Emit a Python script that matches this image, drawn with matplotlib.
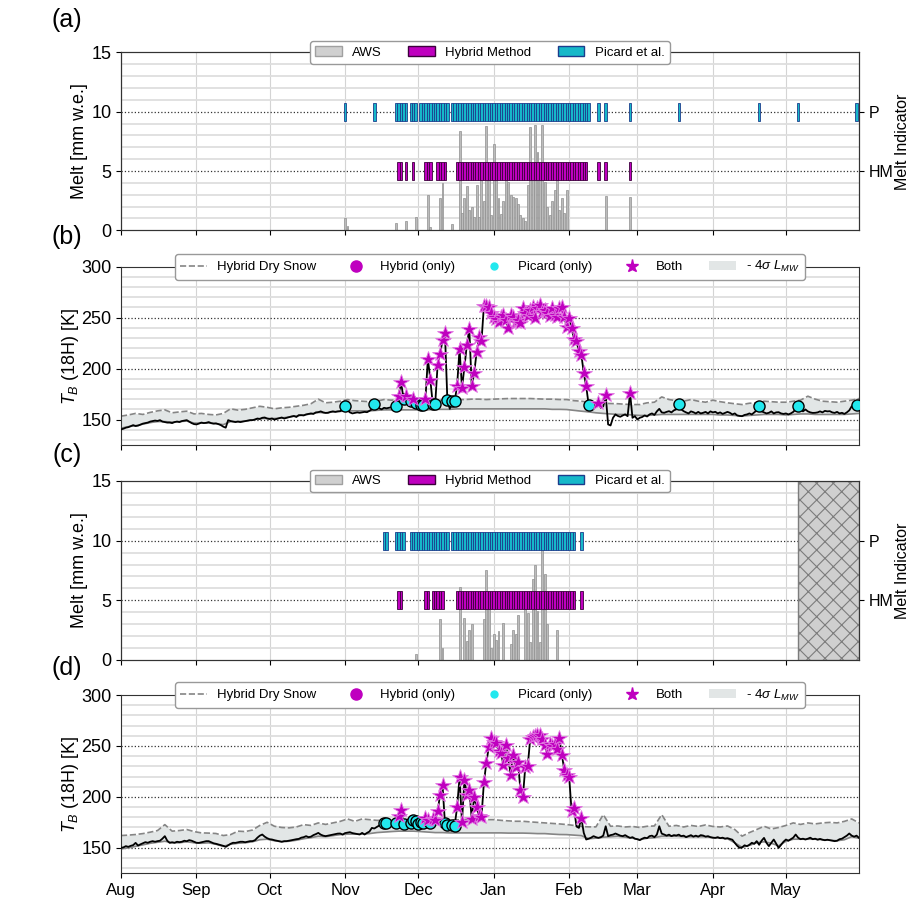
import numpy as np
import matplotlib
matplotlib.use('Agg')
import matplotlib.pyplot as plt
from matplotlib.patches import Patch
from matplotlib.lines import Line2D
from matplotlib.ticker import MultipleLocator

plt.rcParams['font.family'] = ['Liberation Sans', 'DejaVu Sans']
plt.rcParams['mathtext.fontset'] = 'custom'
plt.rcParams['mathtext.rm'] = 'Liberation Sans'
plt.rcParams['mathtext.it'] = 'Liberation Sans:italic'
plt.rcParams['mathtext.bf'] = 'Liberation Sans:bold'
plt.rcParams['hatch.linewidth'] = 0.8

# ---------------- axis / categories ----------------
month_days = [0, 31, 61, 92, 122, 153, 184, 212, 243, 273]   # days since Aug 1
month_labels = ['Aug', 'Sep', 'Oct', 'Nov', 'Dec', 'Jan', 'Feb', 'Mar', 'Apr', 'May']

# ---------------- melt detection days (runs of consecutive days since Aug 1) ----------------
picard_a_runs = [(92, 92), (104, 104), (113, 117), (119, 121), (123, 134), (136, 192),
                 (196, 196), (199, 199), (209, 209), (229, 229), (262, 262), (278, 278), (302, 302)]
hybrid_a_runs = [(114, 115), (117, 117), (120, 120), (125, 127), (130, 133), (138, 191),
                 (196, 196), (199, 199), (209, 209)]
picard_c_runs = [(108, 109), (113, 116), (119, 134), (136, 186), (189, 189)]
hybrid_c_runs = [(114, 115), (125, 126), (128, 132), (138, 186), (189, 189)]

# ---------------- AWS melt (mm w.e.) ----------------
aws_a_days = [92, 93, 113, 117, 121, 126, 127, 131, 132, 136, 139, 140, 141, 142, 143, 144, 145, 146,
              147, 148, 149, 150, 151, 152, 153, 154, 155, 156, 157, 158, 159, 160, 161, 162, 163,
              164, 165, 166, 167, 168, 169, 170, 171, 172, 173, 174, 175, 176, 177, 178, 179, 180,
              181, 182, 183, 199, 209]
aws_a_vals = [1.0, 0.4, 0.6, 0.8, 1.1, 3.0, 0.3, 2.75, 4.0, 0.5, 8.4, 1.5, 2.7, 3.7, 1.7, 2.0, 1.1, 3.8,
              1.1, 4.2, 2.5, 8.8, 4.2, 1.3, 7.3, 4.8, 2.7, 1.4, 2.5, 5.1, 4.1, 3.0, 2.8, 2.7, 2.2,
              1.3, 1.0, 0.8, 3.8, 8.7, 4.6, 8.9, 6.6, 5.5, 8.9, 4.1, 2.0, 1.3, 2.5, 3.4, 4.2, 1.7,
              2.7, 1.5, 3.4, 2.9, 2.8]
aws_c_days = [121, 131, 132, 139, 141, 142, 143, 144, 149, 150, 151, 152, 153, 154, 155, 157, 160,
              161, 162, 163, 166, 167, 168, 169, 170, 171, 172, 173, 174, 175, 179]
aws_c_vals = [0.5, 3.4, 1.0, 6.1, 3.5, 1.6, 2.5, 3.0, 3.4, 7.5, 4.9, 1.0, 2.2, 1.7, 2.4, 3.1, 1.3,
              2.5, 2.2, 3.8, 4.3, 3.9, 1.5, 6.8, 8.0, 4.1, 1.5, 9.4, 7.2, 3.0, 2.5]

# ---------------- T_B (18H) daily, Aug 1 .. May 31 ----------------
tb_b = [
    140.3, 141.0, 142.0, 142.5, 143.5, 144.5, 143.6, 144.0, 145.0, 146.0,
    146.5, 147.0, 148.0, 148.5, 149.0, 148.6, 149.4, 148.0, 147.5, 147.0,
    147.0, 146.5, 147.5, 148.0, 147.5, 148.5, 149.0, 149.4, 148.0, 146.5,
    145.5, 145.2, 146.0, 147.0, 146.5, 146.8, 147.5, 146.5, 146.0, 146.2,
    145.5, 144.5, 143.0, 142.0, 149.4, 148.5, 148.0, 147.5, 148.0, 147.5,
    148.0, 148.5, 149.0, 149.4, 149.4, 150.0, 151.0, 150.5, 151.7, 152.0,
    151.0, 150.5, 151.0, 150.0, 150.7, 151.5, 152.0, 151.0, 151.7, 152.5,
    153.0, 153.5, 152.5, 154.3, 154.3, 154.0, 155.0, 155.5, 156.0, 155.5,
    157.0, 157.2, 158.0, 157.0, 156.5, 156.6, 157.5, 158.0, 157.5, 158.0,
    158.2, 160.0, 163.0, 159.0, 157.0, 156.0, 156.5, 157.0, 156.6, 157.0,
    157.5, 157.2, 158.5, 160.0, 165.0, 162.0, 161.0, 160.0, 161.5, 161.0,
    161.5, 162.0, 162.5, 163.1, 173.5, 186.5, 170.3, 173.5, 166.0, 168.0,
    170.3, 166.4, 165.0, 164.7, 164.7, 170.6, 209.7, 189.0, 165.4, 165.4,
    203.8, 214.5, 227.6, 235.4, 169.0, 160.5, 168.0, 168.0, 183.3, 219.4,
    181.0, 201.5, 223.3, 239.0, 182.6, 195.7, 215.8, 230.8, 226.6, 261.4,
    261.7, 260.0, 254.2, 251.0, 248.4, 246.1, 251.0, 252.6, 247.7, 239.6,
    252.6, 250.3, 246.1, 248.0, 244.5, 259.1, 254.2, 251.6, 257.5, 260.8,
    249.4, 259.1, 262.4, 255.9, 257.5, 254.2, 251.6, 259.1, 252.6, 250.3,
    259.1, 260.1, 251.0, 241.2, 250.0, 240.0, 229.0, 227.2, 216.8, 213.6,
    195.7, 182.6, 164.7, 163.5, 163.0, 164.0, 166.4, 161.5, 163.0, 173.8,
    145.2, 144.2, 151.7, 155.0, 153.5, 152.7, 154.0, 155.0, 153.3, 176.1,
    151.7, 153.3, 150.1, 151.7, 152.5, 154.0, 153.0, 155.0, 156.0, 154.5,
    158.0, 160.5, 157.0, 156.6, 157.5, 158.2, 157.0, 159.0, 160.0, 165.4,
    160.0, 158.2, 157.0, 156.0, 158.0, 157.2, 156.0, 157.5, 156.0, 156.6,
    157.5, 156.0, 158.0, 157.0, 157.6, 156.0, 157.0, 155.5, 156.5, 157.5,
    156.6, 155.0, 156.0, 154.0, 153.5, 153.3, 154.5, 155.0, 156.0, 155.0,
    157.0, 159.0, 163.0, 158.0, 157.0, 156.0, 156.6, 158.0, 156.0, 157.0,
    157.2, 156.0, 155.5, 156.0, 155.0, 156.0, 157.5, 160.0, 163.0, 160.0,
    158.0, 159.9, 158.0, 157.0, 156.5, 156.6, 157.0, 158.0, 157.0, 158.5,
    158.0, 158.2, 157.0, 156.5, 157.5, 156.0, 156.6, 155.5, 157.0, 159.0,
    163.0, 162.0, 164.7, 160.5]

tb_d = [
    150.0, 150.5, 151.7, 151.0, 152.0, 152.7, 154.9, 152.3, 153.5, 154.5,
    155.6, 155.0, 156.0, 156.6, 156.0, 156.6, 157.0, 159.0, 161.5, 157.0,
    154.9, 155.5, 155.0, 156.0, 155.6, 156.0, 157.0, 156.5, 157.6, 157.0,
    156.0, 155.0, 154.9, 155.5, 156.0, 156.6, 156.6, 155.5, 154.5, 154.0,
    153.3, 152.5, 152.0, 151.0, 152.5, 154.0, 155.0, 154.9, 155.5, 156.0,
    156.0, 155.5, 156.0, 156.6, 156.6, 157.5, 160.0, 162.0, 163.1, 161.0,
    159.5, 158.5, 158.2, 157.5, 157.0, 156.6, 156.0, 156.6, 156.6, 157.0,
    157.5, 158.0, 158.5, 158.8, 160.0, 160.5, 161.5, 160.5, 161.0, 162.5,
    163.5, 164.7, 163.0, 162.0, 161.5, 162.0, 162.5, 163.0, 163.5, 164.0,
    164.1, 163.0, 164.5, 165.0, 165.4, 164.5, 164.0, 163.5, 163.1, 164.7,
    163.1, 164.7, 166.0, 169.6, 169.0, 170.5, 171.9, 173.0, 174.5, 174.5,
    172.0, 171.9, 172.5, 174.5, 181.0, 187.5, 173.5, 172.0, 171.5, 174.5,
    177.7, 176.1, 173.8, 175.0, 174.0, 179.4, 177.7, 174.5, 178.4, 177.7,
    185.9, 202.2, 211.9, 174.5, 172.9, 171.9, 172.9, 171.9, 190.1, 219.4,
    175.1, 216.8, 202.2, 207.0, 178.4, 199.9, 190.1, 181.0, 180.3, 214.2,
    233.7, 248.7, 257.5, 254.3, 252.6, 245.5, 243.5, 231.5, 251.0, 238.0,
    221.7, 241.2, 229.8, 234.7, 206.4, 199.9, 229.8, 230.5, 256.8, 258.5,
    259.8, 261.0, 260.8, 256.5, 251.0, 242.2, 252.0, 250.0, 252.0, 246.8,
    257.5, 241.2, 226.6, 222.0, 220.0, 186.0, 189.0, 171.0, 169.6, 179.4,
    164.7, 158.2, 159.0, 160.0, 161.5, 160.5, 159.8, 160.5, 162.0, 171.2,
    161.5, 162.5, 163.0, 164.1, 163.0, 162.0, 161.5, 162.5, 161.0, 159.8,
    160.5, 159.0, 158.5, 157.6, 159.0, 160.0, 159.5, 161.5, 162.0, 160.5,
    163.0, 171.2, 164.0, 163.1, 162.0, 163.0, 161.5, 162.5, 162.1, 163.0,
    161.5, 162.0, 160.5, 161.5, 162.5, 161.0, 162.0, 161.0, 162.5, 162.1,
    161.0, 161.5, 160.5, 160.0, 159.8, 160.5, 159.5, 160.0, 159.0, 159.5,
    158.8, 158.0, 154.9, 152.0, 150.0, 150.5, 152.5, 151.7, 153.0, 155.0,
    154.0, 156.6, 153.0, 157.0, 159.8, 155.0, 151.7, 155.0, 158.2, 154.0,
    150.0, 153.0, 156.0, 158.2, 157.0, 158.5, 160.0, 163.1, 160.0, 158.5,
    159.0, 158.2, 159.0, 160.0, 158.5, 159.0, 158.0, 158.8, 158.0, 157.5,
    158.0, 157.5, 157.0, 156.6, 157.0, 158.5, 159.0, 160.5, 162.0, 164.1,
    162.0, 161.0, 162.0, 159.8]

# ---------------- dry-snow reference and -4 sigma band (every 3rd day) ----------------
band_days = list(range(0, 304, 3))
dry_b = [
    153.3, 154.5, 156.0, 155.0, 157.0, 158.5, 159.5, 156.6, 157.5, 158.2,
    155.5, 156.0, 155.0, 154.5, 156.0, 160.5, 159.2, 160.0, 161.5, 163.0,
    162.0, 160.5, 161.5, 162.0, 163.0, 164.0, 165.5, 170.0, 166.4, 167.0,
    168.0, 169.6, 168.5, 168.0, 167.5, 168.0, 169.6, 169.0, 169.6, 169.6,
    168.5, 168.0, 168.5, 169.0, 169.0, 169.0, 169.6, 169.6, 170.0, 170.0,
    169.6, 170.0, 170.3, 170.6, 170.6, 170.6, 170.6, 170.3, 170.0, 170.0,
    169.6, 169.6, 168.5, 168.0, 167.0, 166.4, 166.0, 165.7, 165.5, 165.0,
    164.7, 164.7, 166.4, 167.0, 172.2, 169.6, 168.5, 168.0, 169.6, 168.0,
    167.0, 169.0, 167.5, 166.4, 165.5, 164.7, 166.0, 166.4, 168.0, 167.5,
    167.0, 167.0, 168.0, 169.0, 172.9, 170.0, 168.0, 167.5, 167.0, 168.0,
    169.0, 170.6]
low_b = [
    141.5, 143.0, 144.0, 145.5, 147.0, 148.0, 148.0, 147.5, 148.0, 148.5,
    146.5, 146.5, 146.5, 146.0, 145.0, 148.0, 148.0, 148.5, 149.5, 151.0,
    151.0, 151.0, 151.5, 152.5, 153.5, 154.5, 155.5, 157.0, 156.5, 157.5,
    158.0, 158.5, 158.5, 158.5, 158.5, 159.0, 159.5, 159.5, 159.5, 159.5,
    159.5, 159.5, 159.5, 160.0, 160.0, 160.0, 160.5, 160.5, 160.5, 160.5,
    160.5, 160.5, 160.5, 160.5, 160.5, 160.5, 160.5, 160.5, 160.5, 160.0,
    160.0, 159.8, 159.0, 158.2, 157.5, 156.6, 156.0, 155.5, 155.0, 155.0,
    154.5, 154.0, 154.0, 154.5, 155.0, 155.0, 155.0, 155.0, 155.0, 155.0,
    155.0, 155.0, 154.5, 154.5, 154.0, 153.5, 154.0, 154.5, 155.0, 155.0,
    155.0, 154.5, 155.0, 155.5, 155.5, 155.0, 155.0, 155.0, 155.0, 155.0,
    155.5, 156.0]
dry_d = [
    162.1, 162.5, 163.1, 164.0, 165.4, 167.0, 172.8, 166.4, 167.0, 168.0,
    166.0, 164.7, 164.5, 164.1, 162.1, 163.0, 166.4, 166.0, 167.5, 172.0,
    175.1, 171.2, 170.0, 169.6, 170.5, 172.8, 172.0, 174.5, 173.0, 174.5,
    176.0, 178.4, 176.0, 178.4, 177.7, 177.0, 177.0, 176.5, 176.0, 176.5,
    177.0, 177.0, 177.5, 177.0, 177.0, 177.5, 177.5, 177.7, 177.7, 177.7,
    177.7, 177.7, 177.0, 176.5, 176.1, 176.1, 175.5, 175.0, 174.5, 174.0,
    173.5, 172.9, 172.0, 171.0, 170.6, 170.6, 182.6, 171.2, 171.5, 170.5,
    171.0, 170.0, 171.2, 171.5, 182.6, 171.2, 172.0, 170.5, 172.0, 171.0,
    172.5, 171.0, 170.5, 171.5, 168.0, 161.5, 165.0, 168.0, 171.2, 168.5,
    170.0, 172.0, 174.5, 173.0, 174.5, 173.5, 174.5, 175.0, 174.5, 176.0,
    178.4, 174.5]
low_d = [
    149.0, 150.0, 151.5, 153.0, 154.5, 155.5, 156.5, 155.0, 155.0, 156.0,
    155.0, 154.5, 155.0, 153.5, 151.5, 153.5, 154.5, 155.0, 156.0, 158.0,
    158.5, 157.0, 156.0, 156.5, 157.5, 159.0, 160.0, 161.5, 161.0, 162.0,
    163.0, 163.5, 163.5, 163.5, 164.0, 165.0, 165.5, 166.0, 166.4, 166.4,
    166.4, 166.0, 165.5, 165.0, 165.0, 164.7, 164.7, 164.7, 164.7, 164.7,
    164.7, 164.7, 164.7, 164.5, 164.5, 164.5, 164.3, 164.0, 164.0, 163.5,
    163.1, 163.0, 162.5, 162.0, 159.0, 159.5, 160.5, 161.0, 161.5, 160.5,
    159.5, 158.0, 159.5, 160.0, 161.5, 161.5, 161.5, 161.0, 161.0, 161.0,
    161.0, 160.0, 159.5, 159.0, 155.0, 150.5, 152.5, 155.0, 156.0, 154.5,
    152.0, 156.5, 158.5, 158.5, 158.5, 158.5, 158.0, 157.5, 157.0, 158.0,
    161.0, 159.5]

no_data_start_c = 278   # hatched (no AWS data) region in panel (c)

# ---------------- styles ----------------
C_HYB = '#bf00bf'
C_HYB_EDGE = '#3c003c'
C_PIC = '#16b8c9'
C_PIC_EDGE = '#1c3c8c'
C_CYAN = '#22e8ee'
C_AWS = '#bcbcbc'
C_BAND = '#e2e6e6'
C_DRY = '#858585'
FS_YTICK = 13
FS_XTICK = 12
FS_LAB = 13
FS_RTICK = 11.5
FS_RLAB = 11.5
FS_LEG = 9.5

XMAX = 303


def expand(runs):
    out = []
    for a, b in runs:
        out.extend(range(a, b + 1))
    return out


def style_x(ax, labels):
    ax.set_xlim(0, XMAX)
    ax.set_xticks(month_days)
    if labels:
        ax.set_xticklabels(month_labels, fontsize=FS_XTICK)
    else:
        ax.set_xticklabels([])
    ax.grid(which='major', axis='x', color='#d4d4d4', lw=0.8, zorder=0)
    ax.set_axisbelow(True)


def melt_panel(ax, aws_days, aws_vals, hyb_days, pic_days):
    ax.set_ylim(0, 15)
    ax.yaxis.set_major_locator(MultipleLocator(5))
    ax.yaxis.set_minor_locator(MultipleLocator(1))
    ax.tick_params(axis='y', which='minor', length=0)
    ax.grid(which='minor', axis='y', color='#dedede', lw=1.3, zorder=0)
    for yv in (5, 10):
        ax.axhline(yv, color='#333333', ls=':', lw=0.9, zorder=1)
    ax.bar(aws_days, aws_vals, width=0.8, color=C_AWS, edgecolor='#8f8f8f', lw=0.5, zorder=2)
    ax.bar(hyb_days, 1.5, bottom=4.25, width=1.0, color=C_HYB, edgecolor=C_HYB_EDGE, lw=0.6, zorder=3)
    ax.bar(pic_days, 1.5, bottom=9.25, width=1.0, color=C_PIC, edgecolor=C_PIC_EDGE, lw=0.6, zorder=3)
    ax.set_ylabel('Melt [mm w.e.]', fontsize=FS_LAB)
    ax.yaxis.set_label_coords(-0.045, 0.5)
    ax.tick_params(axis='y', labelsize=FS_YTICK)
    ax2 = ax.twinx()
    ax2.set_ylim(0, 15)
    ax2.set_yticks([5, 10])
    ax2.set_yticklabels(['HM', 'P'], fontsize=FS_RTICK)
    ax2.set_ylabel('Melt Indicator', fontsize=FS_RLAB)
    ax2.yaxis.set_label_coords(1.049, 0.5)
    handles = [Patch(facecolor='#d0d0d0', edgecolor='#a0a0a0'),
               Patch(facecolor=C_HYB, edgecolor=C_HYB_EDGE),
               Patch(facecolor=C_PIC, edgecolor=C_PIC_EDGE)]
    leg = ax2.legend(handles, ['AWS', 'Hybrid Method', 'Picard et al.'], ncol=3,
                     loc='center', bbox_to_anchor=(0.5, 1.0), fontsize=FS_LEG,
                     framealpha=1, edgecolor='#999999', columnspacing=2.0)
    leg.set_zorder(10)
    return ax2


def tb_panel(ax, tb, dry, low, hyb_days, pic_days):
    tb = np.asarray(tb)
    days = np.arange(len(tb))
    ax.set_ylim(125, 300)
    ax.yaxis.set_major_locator(MultipleLocator(50))
    ax.yaxis.set_minor_locator(MultipleLocator(10))
    ax.tick_params(axis='y', which='minor', length=0)
    ax.grid(which='minor', axis='y', color='#dedede', lw=1.3, zorder=0)
    for yv in (150, 200, 250):
        ax.axhline(yv, color='#333333', ls=':', lw=0.9, zorder=1)
    ax.fill_between(band_days, low, dry, color=C_BAND, lw=0, zorder=1.5)
    ax.plot(band_days, dry, color=C_DRY, ls='--', lw=1.2, zorder=2)
    ax.plot(band_days, low, color=C_DRY, ls='-', lw=1.2, zorder=2)
    ax.plot(days, tb, color='k', lw=1.3, zorder=3)
    ps, hs = set(pic_days), set(hyb_days)
    both = sorted(ps & hs)
    ponly = sorted(ps - hs)
    honly = sorted(hs - ps)
    ax.plot(ponly, tb[ponly], 'o', ms=8, mfc=C_CYAN, mec='k', mew=1.0, zorder=4)
    if honly:
        ax.plot(honly, tb[honly], 'o', ms=8, mfc=C_HYB, mec='k', mew=1.0, zorder=4)
    ax.plot(both, tb[both], '*', ms=11.5, mfc=C_HYB, mec='#e27ae2', mew=0.6, zorder=5)
    ax.set_ylabel(r'$T_B$ (18H) [K]', fontsize=FS_LAB)
    ax.yaxis.set_label_coords(-0.054, 0.5)
    ax.tick_params(axis='y', labelsize=FS_YTICK)
    handles = [Line2D([], [], color=C_DRY, ls='--', lw=1.2),
               Line2D([], [], marker='o', ls='', color=C_HYB, ms=8),
               Line2D([], [], marker='o', ls='', color=C_CYAN, ms=5),
               Line2D([], [], marker='*', ls='', color=C_HYB, ms=9.5),
               Patch(facecolor=C_BAND, edgecolor='none')]
    labels = ['Hybrid Dry Snow', 'Hybrid (only)', 'Picard (only)', 'Both', r'- 4$\sigma$ $L_{MW}$']
    leg = ax.legend(handles, labels, ncol=5, loc='center', bbox_to_anchor=(0.5, 1.0),
                    fontsize=FS_LEG, framealpha=1, edgecolor='#999999', columnspacing=2.0)
    leg.set_zorder(10)


fig = plt.figure(figsize=(9.09, 9.01), dpi=100)
L, W = 0.1331, 0.8119
ax_a = fig.add_axes([L, 0.7444, W, 0.1974])
ax_b = fig.add_axes([L, 0.5061, W, 0.1979])
ax_c = fig.add_axes([L, 0.2675, W, 0.1987])
ax_d = fig.add_axes([L, 0.0307, W, 0.1979])

hyb_a, pic_a = expand(hybrid_a_runs), expand(picard_a_runs)
hyb_c, pic_c = expand(hybrid_c_runs), expand(picard_c_runs)

melt_panel(ax_a, aws_a_days, aws_a_vals, hyb_a, pic_a)
tb_panel(ax_b, tb_b, dry_b, low_b, hyb_a, pic_a)
ax2c = melt_panel(ax_c, aws_c_days, aws_c_vals, hyb_c, pic_c)
ax_c.axvspan(no_data_start_c, XMAX, facecolor='#cfcfcf', edgecolor='#7c7c7c',
             hatch='xx', lw=1.0, zorder=4)
tb_panel(ax_d, tb_d, dry_d, low_d, hyb_c, pic_c)

for ax in (ax_a, ax_b, ax_c):
    style_x(ax, False)
style_x(ax_d, True)

for ax in fig.axes:
    for s in ax.spines.values():
        s.set_color('#333333')

for lab, y in (('(a)', 20), ('(b)', 237), ('(c)', 455), ('(d)', 668)):
    fig.text(67 / 909, 1 - y / 901, lab, ha='center', va='center', fontsize=18)

fig.savefig('out.png', dpi=100)
